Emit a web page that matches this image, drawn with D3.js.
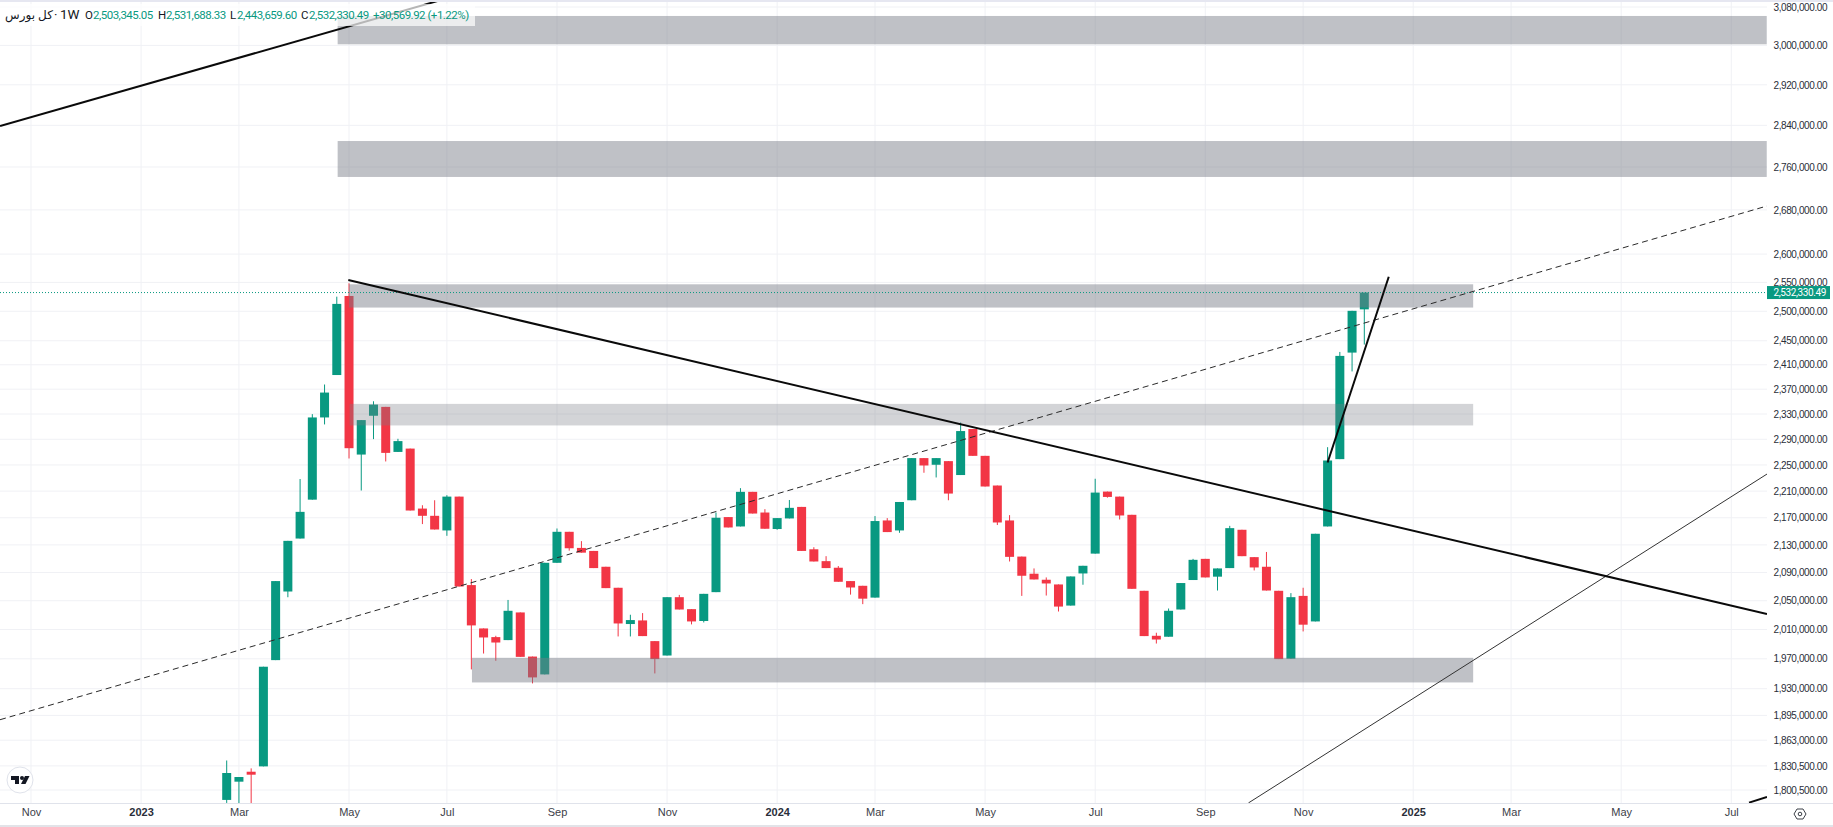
<!DOCTYPE html>
<html lang="fa">
<head>
<meta charset="UTF-8">
<title>کل بورس 1W</title>
<script src="https://d3js.org/d3.v7.min.js"></script>
<style>
    html, body { margin: 0; padding: 0; background: #fff; }
    svg { display: block; font-family: Roboto, "DejaVu Sans", sans-serif; }
    .price-axis text { font-size: 10px; letter-spacing: -0.4px; fill: #2a2e39; }
    .time-axis text { font-size: 11px; fill: #3c4048; }
    .time-axis text.year { font-weight: 700; fill: #2a2e39; }
    .domain { display: none; }
</style>
</head>
<body>
<div id="chart"></div>
<script>
const width = 1833;
const height = 827;

// weekly bars (first bars run below the visible range)
const opens = [
    1788300, 1810800, 1823200, 1829900, 1968200, 2063000, 2139300, 2197100, 2324500, 2393100,
    2526400, 2266100, 2327200, 2341400, 2270200, 2275400, 2183700, 2172900, 2151200, 2201700,
    2072100, 2011400, 1999500, 1995400, 2033600, 1973000, 1949000, 2104000, 2149200, 2125600,
    2121200, 2098300, 2068300, 2017500, 2022500, 1994000, 1974400, 2055000, 2038200, 2021700,
    2062100, 2171000, 2157100, 2208900, 2177800, 2153300, 2169000, 2186200, 2123600, 2106400,
    2096900, 2077800, 2071100, 2054400, 2166000, 2151200, 2196200, 2260600, 2250300, 2255900,
    2234500, 2306100, 2264100, 2218500, 2166000, 2113000, 2088300, 2079700, 2073000, 2043200,
    2088700, 2117300, 2209300, 2201700, 2174400, 2064000, 2001300, 2000000, 2037700, 2079300,
    2109700, 2084100, 2096400, 2152200, 2112200, 2098300, 2064000, 1970000, 2056800, 2021100,
    2157100, 2259000, 2430200, 2503345.05
];
const highs = [
    1837300, 1816600, 1827400, 1959300, 2077800, 2135900, 2228400, 2329800, 2377600, 2525200,
    2548500, 2320300, 2350400, 2341400, 2290700, 2275400, 2188700, 2196200, 2203800, 2201700,
    2080700, 2011400, 2001300, 2051100, 2033600, 1973000, 2104000, 2154100, 2149200, 2135500,
    2121200, 2098300, 2068300, 2030400, 2032700, 1994000, 2055000, 2058200, 2038200, 2059700,
    2177800, 2171000, 2214500, 2208900, 2182800, 2169500, 2196600, 2186200, 2126600, 2113600,
    2099300, 2077800, 2071100, 2172500, 2169500, 2193600, 2260600, 2260600, 2260600, 2255900,
    2316500, 2306100, 2264100, 2218500, 2173900, 2113000, 2095900, 2083000, 2073000, 2084400,
    2099700, 2228800, 2209300, 2201700, 2174400, 2064000, 2005500, 2039100, 2075000, 2109700,
    2109700, 2095900, 2158000, 2152200, 2112200, 2119700, 2064000, 2060700, 2068300, 2146300,
    2277600, 2431300, 2500800, 2531688.33
];
const lows = [
    1784600, 1782000, 1782000, 1829900, 1968200, 2054900, 2139300, 2197100, 2313400, 2393100,
    2260000, 2210900, 2290200, 2255400, 2270200, 2180800, 2160600, 2152600, 2143300, 2070100,
    1955700, 1977100, 1967300, 1995400, 1972600, 1937000, 1949000, 2104000, 2121600, 2118700,
    2096400, 2067800, 2000400, 2000400, 2000900, 1950300, 1974400, 2037700, 2017000, 2019700,
    2062100, 2155600, 2157100, 2176300, 2153700, 2152200, 2169000, 2121200, 2105900, 2096400,
    2076800, 2058600, 2045200, 2054400, 2148800, 2147700, 2196200, 2238000, 2230800, 2196200,
    2234500, 2264100, 2217000, 2159200, 2105900, 2056800, 2080100, 2057300, 2034900, 2043200,
    2072600, 2117300, 2200100, 2167400, 2066800, 2000900, 1990700, 2000000, 2037700, 2079300,
    2083000, 2064400, 2096400, 2113600, 2093000, 2064400, 1969600, 1970000, 2007300, 2021100,
    2157100, 2259000, 2399000, 2443659.6
];
const closes = [
    1821600, 1816600, 1819500, 1959300, 2077800, 2135900, 2178800, 2324500, 2364500, 2512700,
    2276000, 2320300, 2345100, 2268700, 2287100, 2180800, 2172900, 2152600, 2201700, 2070100,
    2015600, 1999000, 1992100, 2035900, 1972600, 1945000, 2104000, 2149200, 2125100, 2118700,
    2096400, 2067800, 2018300, 2023000, 2000900, 1969600, 2055000, 2037700, 2021100, 2059700,
    2170000, 2155600, 2208900, 2176300, 2153700, 2169500, 2184800, 2121200, 2105900, 2096400,
    2076800, 2068700, 2052900, 2165100, 2148800, 2193600, 2260600, 2249200, 2260600, 2206300,
    2302900, 2264100, 2217000, 2163000, 2112600, 2085400, 2080100, 2074400, 2041800, 2084400,
    2099700, 2207800, 2201200, 2173400, 2066800, 2000900, 1996200, 2035900, 2075000, 2108300,
    2083000, 2095900, 2154600, 2113600, 2097300, 2064400, 1969600, 2055000, 2016600, 2146300,
    2256900, 2424700, 2500800, 2532330.49
];

const priceTicks = [
    3080000, 3000000, 2920000, 2840000, 2760000, 2680000, 2600000, 2550000, 2500000, 2450000,
    2410000, 2370000, 2330000, 2290000, 2250000, 2210000, 2170000, 2130000, 2090000, 2050000,
    2010000, 1970000, 1930000, 1895000, 1863000, 1830500, 1800500
];
// bar number (0 = first bar) where each month label sits
const timeTickBars = [-16, -7, 1, 10, 18, 27, 36, 45, 53, 62, 71, 80, 88, 97, 105, 114, 123];
const timeTickLabels = ["Nov", "2023", "Mar", "May", "Jul", "Sep", "Nov", "2024", "Mar", "May", "Jul", "Sep", "Nov", "2025", "Mar", "May", "Jul"];

// zones: [first bar, last bar, top price, bottom price]
const darkZones = [
    [9.07, 125.9, 3061100, 3002200],
    [9.07, 125.9, 2809600, 2741200],
    [10, 101.9, 2546700, 2506400],
    [20.05, 101.9, 1971300, 1938300]
];
const lightZones = [
    [10.05, 101.9, 2346200, 2311800]
];

// trend lines: [bar, price, bar, price]
const thickLines = [
    [-18.53, 2838700, 17.52, 3094800],
    [9.94, 2554200, 125.92, 2031300],
    [90, 2253800, 95, 2560000],
    [124.45, 1785000, 125.92, 1792000]
];
const thinLines = [
    [83.53, 1784600, 125.92, 2236000]
];
const dashedLines = [
    [-18.53, 1889400, 125.92, 2687200]
];

const lastClose = 2532330.49;
const legendParts = [
    { x: 85, text: "O", color: "#131722" }, { x: 93, text: "2,503,345.05", color: "#089981" },
    { x: 158, text: "H", color: "#131722" }, { x: 166, text: "2,531,688.33", color: "#089981" },
    { x: 230, text: "L", color: "#131722" }, { x: 237, text: "2,443,659.60", color: "#089981" },
    { x: 301, text: "C", color: "#131722" }, { x: 309, text: "2,532,330.49", color: "#089981" },
    { x: 373, text: "+30,569.92 (+1.22%)", color: "#089981" }
];

const plotRight = 1767;
const plotBottom = 803;

const x = d3.scaleLinear().domain([0, 93]).range([226.7, 1364.3]);
const y = d3.scaleLog().domain([1800500, 3080000]).range([790, 7]);

const svg = d3.select("#chart").append("svg")
    .attr("width", width)
    .attr("height", height);

svg.append("rect").attr("width", width).attr("height", height).attr("fill", "#fff");

svg.append("clipPath").attr("id", "plot")
    .append("rect").attr("x", 0).attr("y", 2).attr("width", plotRight).attr("height", plotBottom - 2);

// grid
svg.append("g").selectAll("line").data(priceTicks).join("line")
    .attr("x1", 0).attr("x2", plotRight)
    .attr("y1", d => y(d)).attr("y2", d => y(d))
    .attr("stroke", "#f0f1f5");
svg.append("g").selectAll("line").data(timeTickBars).join("line")
    .attr("x1", d => x(d)).attr("x2", d => x(d))
    .attr("y1", 2).attr("y2", plotBottom)
    .attr("stroke", "#f0f1f5");

const plot = svg.append("g").attr("clip-path", "url(#plot)");

// candles
const bars = d3.range(opens.length);
const barColor = i => closes[i] >= opens[i] ? "#089981" : "#f23645";

plot.append("g").selectAll("line").data(bars).join("line")
    .attr("x1", i => x(i)).attr("x2", i => x(i))
    .attr("y1", i => y(highs[i])).attr("y2", i => y(lows[i]))
    .attr("stroke", barColor);

plot.append("g").selectAll("rect").data(bars).join("rect")
    .attr("x", i => x(i) - 4.5)
    .attr("width", 9)
    .attr("y", i => y(Math.max(opens[i], closes[i])))
    .attr("height", i => Math.max(1, y(Math.min(opens[i], closes[i])) - y(Math.max(opens[i], closes[i]))))
    .attr("fill", barColor);

// zones sit on top of the candles
function drawZones(zones, alpha) {
    plot.append("g").selectAll("rect").data(zones).join("rect")
        .attr("x", d => x(d[0]))
        .attr("width", d => x(d[1]) - x(d[0]))
        .attr("y", d => y(d[2]))
        .attr("height", d => y(d[3]) - y(d[2]))
        .attr("fill", "rgb(120,123,134)")
        .attr("fill-opacity", alpha);
}
drawZones(darkZones, 0.47);
drawZones(lightZones, 0.33);

// last price line
plot.append("line")
    .attr("x1", 0).attr("x2", plotRight)
    .attr("y1", y(lastClose)).attr("y2", y(lastClose))
    .attr("stroke", "#089981")
    .attr("stroke-dasharray", "1,2");

function drawLines(lines, strokeWidth, color, dash) {
    plot.append("g").selectAll("line").data(lines).join("line")
        .attr("x1", d => x(d[0])).attr("y1", d => y(d[1]))
        .attr("x2", d => x(d[2])).attr("y2", d => y(d[3]))
        .attr("stroke", color)
        .attr("stroke-width", strokeWidth)
        .attr("stroke-dasharray", dash);
}
drawLines(dashedLines, 1, "#2a2a2a", "6,4");
drawLines(thinLines, 1, "#333", null);
drawLines(thickLines, 2, "#0a0a0a", null);

// frame
svg.append("rect").attr("width", width).attr("height", 2).attr("fill", "#e6e7f1");
svg.append("rect").attr("y", height - 2).attr("width", width).attr("height", 2).attr("fill", "#e2e3e8");
svg.append("line").attr("x1", 0).attr("x2", width).attr("y1", plotBottom + 0.5).attr("y2", plotBottom + 0.5).attr("stroke", "#e0e3eb");

// axes
svg.append("g")
    .attr("class", "price-axis")
    .attr("transform", `translate(${plotRight},0)`)
    .call(d3.axisRight(y).tickValues(priceTicks).tickFormat(d3.format(",.2f")).tickSize(0).tickPadding(6.5));

const timeAxis = svg.append("g")
    .attr("class", "time-axis")
    .attr("transform", `translate(0,${plotBottom})`)
    .call(d3.axisBottom(x).tickValues(timeTickBars).tickFormat((d, i) => timeTickLabels[i]).tickSize(0).tickPadding(5));
timeAxis.selectAll("text").classed("year", d => timeTickLabels[timeTickBars.indexOf(d)].length === 4);

// last price tag
svg.append("rect")
    .attr("x", plotRight).attr("y", y(lastClose) - 6.5)
    .attr("width", 63).attr("height", 13)
    .attr("fill", "#089981");
svg.append("text")
    .attr("x", plotRight + 6.5).attr("y", y(lastClose))
    .attr("dy", "0.35em")
    .attr("font-size", 10)
    .attr("letter-spacing", "-0.4px")
    .attr("fill", "#fff")
    .text(d3.format(",.2f")(lastClose));

// legend
svg.append("rect").attr("x", 0).attr("y", 4).attr("width", 475).attr("height", 22).attr("fill", "#fff").attr("fill-opacity", 0.7);
svg.append("text").attr("x", 5).attr("y", 19).attr("font-size", 12).attr("fill", "#131722").attr("font-family", "'Noto Sans', 'DejaVu Sans', sans-serif").text("کل بورس");
svg.append("text").attr("x", 54).attr("y", 19).attr("font-size", 13).attr("fill", "#131722").text("·");
svg.append("text").attr("x", 60).attr("y", 19).attr("font-size", 13.5).attr("fill", "#131722").text("1W");
svg.append("g").selectAll("text").data(legendParts).join("text")
    .attr("x", d => d.x).attr("y", 19)
    .attr("font-size", 11.5)
    .attr("letter-spacing", "-0.5px")
    .attr("fill", d => d.color)
    .text(d => d.text);

// tradingview badge
const badge = svg.append("g").attr("transform", "translate(20,780)");
badge.append("circle").attr("r", 13).attr("fill", "#fff").attr("stroke", "#e0e3eb");
badge.append("path").attr("d", "M-9,-4H-1V4H-5V0H-9Z M5,-4H9.5L5.5,4H1Z").attr("fill", "#131722");
badge.append("circle").attr("cx", 2).attr("cy", -2).attr("r", 2).attr("fill", "#131722");

// settings icon
const gear = svg.append("g").attr("transform", "translate(1800,814)").attr("fill", "none").attr("stroke", "#3c4048");
gear.append("path").attr("d", "M-6,0L-3,-5H3L6,0L3,5H-3Z");
gear.append("circle").attr("r", 1.8);
</script>
</body>
</html>
